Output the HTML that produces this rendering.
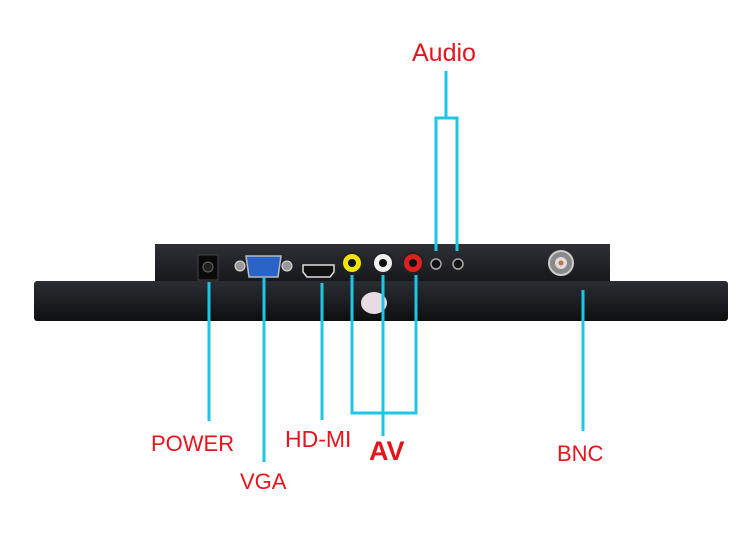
<!DOCTYPE html>
<html><head><meta charset="utf-8"><style>
html,body{margin:0;padding:0;background:#fff;width:750px;height:553px;overflow:hidden}
</style></head><body>
<svg width="750" height="553" xmlns="http://www.w3.org/2000/svg">
<defs>
<linearGradient id="lb" x1="0" y1="0" x2="0" y2="1"><stop offset="0" stop-color="#2a2d33"/><stop offset="0.5" stop-color="#1c1e22"/><stop offset="1" stop-color="#0e0f11"/></linearGradient>
<linearGradient id="ub" x1="0" y1="0" x2="0" y2="1"><stop offset="0" stop-color="#2e3036"/><stop offset="1" stop-color="#15161a"/></linearGradient>
</defs>
<!-- upper box -->
<rect x="155" y="244" width="455" height="40" fill="url(#ub)"/>
<!-- lower bar -->
<rect x="34" y="281" width="694" height="40" rx="3" fill="url(#lb)"/>
<!-- power jack -->
<rect x="198" y="255" width="20" height="25" fill="#0a0a0a" stroke="#444" stroke-width="1"/>
<circle cx="208" cy="267" r="5" fill="#222" stroke="#666"/>
<!-- VGA -->
<circle cx="240" cy="266" r="5" fill="#999" stroke="#ddd"/>
<circle cx="287" cy="266" r="5" fill="#999" stroke="#ddd"/>
<path d="M246 256 H281 L278 277 H249 Z" fill="#2a62c8" stroke="#bbb" stroke-width="1.5"/>
<!-- HDMI -->
<path d="M303 265 H334 V272 L330 277 H307 L303 272 Z" fill="#111" stroke="#ddd" stroke-width="1.5"/>
<!-- RCA -->
<circle cx="352" cy="263" r="10" fill="#f1e20a" stroke="#222" stroke-width="2"/><circle cx="352" cy="263" r="4" fill="#111"/>
<circle cx="383" cy="263" r="10" fill="#f0f0f0" stroke="#222" stroke-width="2"/><circle cx="383" cy="263" r="4" fill="#111"/>
<circle cx="413" cy="263" r="10" fill="#e02020" stroke="#222" stroke-width="2"/><circle cx="413" cy="263" r="4" fill="#111"/>
<circle cx="436" cy="264" r="5" fill="#111" stroke="#aaa" stroke-width="1.5"/>
<circle cx="458" cy="264" r="5" fill="#111" stroke="#aaa" stroke-width="1.5"/>
<!-- BNC -->
<circle cx="561" cy="263" r="12" fill="#8a8a8a" stroke="#ccc" stroke-width="2"/>
<circle cx="561" cy="263" r="6" fill="#ddd"/><circle cx="561" cy="263" r="2.5" fill="#c87040"/>
<!-- sticker -->
<ellipse cx="374" cy="303" rx="13" ry="11" fill="#e8dce4"/>
<!-- connector lines -->
<g stroke="#1ec6e6" stroke-width="3" fill="none">
<line x1="209" y1="282" x2="209" y2="421"/>
<line x1="264" y1="278" x2="264" y2="462"/>
<line x1="322" y1="283" x2="322" y2="420"/>
<polyline points="352,275 352,413 416,413 416,275"/>
<line x1="383" y1="275" x2="383" y2="436"/>
<polyline points="436,251 436,118 457,118 457,251"/>
<line x1="446" y1="71" x2="446" y2="118"/>
<line x1="583" y1="290" x2="583" y2="431"/>
</g>
<g fill="#e8141c" font-family="Liberation Sans, sans-serif">
<text x="412" y="61" font-size="25">Audio</text>
<text x="151" y="451" font-size="22">POWER</text>
<text x="240" y="489" font-size="22">VGA</text>
<text x="285" y="447" font-size="23">HD-MI</text>
<text x="369" y="460" font-size="27" font-weight="bold">AV</text>
<text x="557" y="461" font-size="22">BNC</text>
</g>
</svg>
</body></html>
